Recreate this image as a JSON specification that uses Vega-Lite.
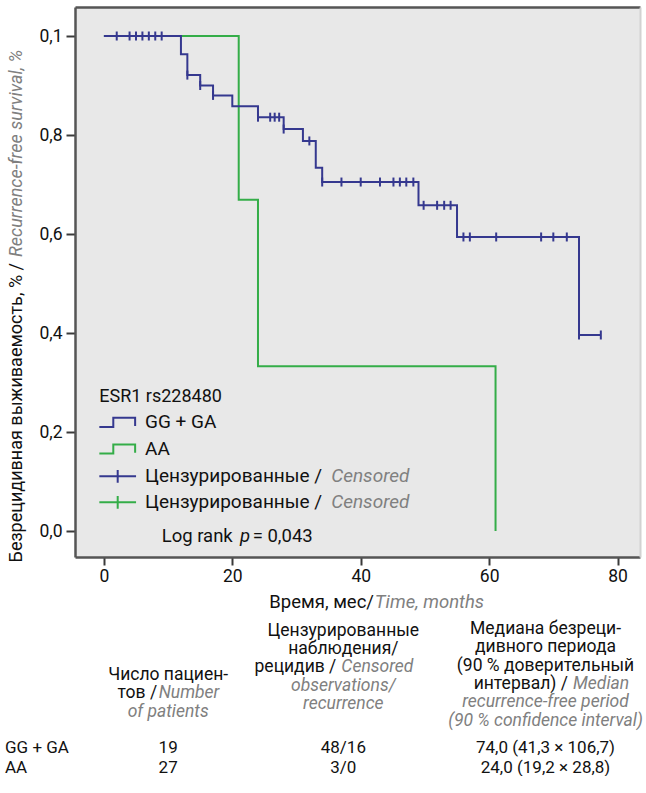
{
  "$schema": "https://vega.github.io/schema/vega-lite/v6.json",
  "width": 565,
  "height": 550,
  "padding": {"left": 5, "top": 7, "right": 0, "bottom": 0},
  "background": "white",
  "config": {
    "font": "Roboto",
    "view": {"fill": "#e8e8e8", "stroke": null},
    "text": {"fontSize": 17.5, "color": "#111"}
  },
  "datasets": {
    "curves": [
      {"group": "GG + GA", "time": 0, "surv": 1},
      {"group": "GG + GA", "time": 12, "surv": 0.963},
      {"group": "GG + GA", "time": 13, "surv": 0.921},
      {"group": "GG + GA", "time": 15, "surv": 0.9},
      {"group": "GG + GA", "time": 17, "surv": 0.88},
      {"group": "GG + GA", "time": 20, "surv": 0.858},
      {"group": "GG + GA", "time": 24, "surv": 0.836},
      {"group": "GG + GA", "time": 28, "surv": 0.812},
      {"group": "GG + GA", "time": 31, "surv": 0.788},
      {"group": "GG + GA", "time": 33, "surv": 0.734},
      {"group": "GG + GA", "time": 34, "surv": 0.705},
      {"group": "GG + GA", "time": 49, "surv": 0.658},
      {"group": "GG + GA", "time": 55, "surv": 0.594},
      {"group": "GG + GA", "time": 74, "surv": 0.396},
      {"group": "GG + GA", "time": 77.4, "surv": 0.396},
      {"group": "AA", "time": 0, "surv": 1},
      {"group": "AA", "time": 21, "surv": 0.669},
      {"group": "AA", "time": 24, "surv": 0.333},
      {"group": "AA", "time": 61, "surv": 0}
    ],
    "censored": [
      {"group": "GG + GA", "time": 2, "surv": 1},
      {"group": "GG + GA", "time": 4, "surv": 1},
      {"group": "GG + GA", "time": 5, "surv": 1},
      {"group": "GG + GA", "time": 6, "surv": 1},
      {"group": "GG + GA", "time": 7, "surv": 1},
      {"group": "GG + GA", "time": 8, "surv": 1},
      {"group": "GG + GA", "time": 9, "surv": 1},
      {"group": "GG + GA", "time": 13, "surv": 0.921},
      {"group": "GG + GA", "time": 15, "surv": 0.9},
      {"group": "GG + GA", "time": 17, "surv": 0.88},
      {"group": "GG + GA", "time": 24, "surv": 0.836},
      {"group": "GG + GA", "time": 25.9, "surv": 0.836},
      {"group": "GG + GA", "time": 26.6, "surv": 0.836},
      {"group": "GG + GA", "time": 27.3, "surv": 0.836},
      {"group": "GG + GA", "time": 28, "surv": 0.812},
      {"group": "GG + GA", "time": 32, "surv": 0.788},
      {"group": "GG + GA", "time": 34, "surv": 0.705},
      {"group": "GG + GA", "time": 37, "surv": 0.705},
      {"group": "GG + GA", "time": 40, "surv": 0.705},
      {"group": "GG + GA", "time": 43, "surv": 0.705},
      {"group": "GG + GA", "time": 45.1, "surv": 0.705},
      {"group": "GG + GA", "time": 46.1, "surv": 0.705},
      {"group": "GG + GA", "time": 47.1, "surv": 0.705},
      {"group": "GG + GA", "time": 48.2, "surv": 0.705},
      {"group": "GG + GA", "time": 49.8, "surv": 0.658},
      {"group": "GG + GA", "time": 51.9, "surv": 0.658},
      {"group": "GG + GA", "time": 53, "surv": 0.658},
      {"group": "GG + GA", "time": 54, "surv": 0.658},
      {"group": "GG + GA", "time": 56, "surv": 0.594},
      {"group": "GG + GA", "time": 57, "surv": 0.594},
      {"group": "GG + GA", "time": 61.1, "surv": 0.594},
      {"group": "GG + GA", "time": 68.1, "surv": 0.594},
      {"group": "GG + GA", "time": 70, "surv": 0.594},
      {"group": "GG + GA", "time": 72.1, "surv": 0.594},
      {"group": "GG + GA", "time": 74, "surv": 0.396},
      {"group": "GG + GA", "time": 77.4, "surv": 0.396}
    ],
    "header": [
      {"col": "n", "line": 1, "kind": "ru", "text": "Число пациен-"},
      {"col": "n", "line": 2, "kind": "ruL", "text": "тов /"},
      {"col": "n", "line": 2, "kind": "enR", "text": "Number"},
      {"col": "n", "line": 3, "kind": "en", "text": "of patients"},
      {"col": "cens", "line": 1, "kind": "ru", "text": "Цензурированные"},
      {"col": "cens", "line": 2, "kind": "ru", "text": "наблюдения/"},
      {"col": "cens", "line": 3, "kind": "ruL", "text": "рецидив /"},
      {"col": "cens", "line": 3, "kind": "enR", "text": "Censored"},
      {"col": "cens", "line": 4, "kind": "en", "text": "observations/"},
      {"col": "cens", "line": 5, "kind": "en", "text": "recurrence"},
      {"col": "med", "line": 1, "kind": "ru", "text": "Медиана безреци-"},
      {"col": "med", "line": 2, "kind": "ru", "text": "дивного периода"},
      {"col": "med", "line": 3, "kind": "ru", "text": "(90 % доверительный"},
      {"col": "med", "line": 4, "kind": "ruL", "text": "интервал) /"},
      {"col": "med", "line": 4, "kind": "enR", "text": "Median"},
      {"col": "med", "line": 5, "kind": "en", "text": "recurrence-free period"},
      {"col": "med", "line": 6, "kind": "en", "text": "(90 % confidence interval)"}
    ],
    "rows": [
      {"group": "GG + GA", "col": "label", "value": "GG + GA"},
      {"group": "GG + GA", "col": "n", "value": "19"},
      {"group": "GG + GA", "col": "cens", "value": "48/16"},
      {"group": "GG + GA", "col": "med", "value": "74,0 (41,3 × 106,7)"},
      {"group": "AA", "col": "label", "value": "AA"},
      {"group": "AA", "col": "n", "value": "27"},
      {"group": "AA", "col": "cens", "value": "3/0"},
      {"group": "AA", "col": "med", "value": "24,0 (19,2 × 28,8)"}
    ]
  },
  "layer": [
    {
      "data": {"name": "curves"},
      "transform": [{"filter": "datum.group == 'AA'"}],
      "mark": {"type": "line", "interpolate": "step-after", "color": "#34ad48", "strokeWidth": 2},
      "encoding": {
        "x": {"field": "time", "type": "quantitative", "scale": {"domain": [-4.5, 83.5], "nice": false, "zero": false},
          "axis": {"values": [0, 20, 40, 60, 80], "title": null, "grid": false, "domain": true, "domainColor": "#555", "domainWidth": 2.5, "tickSize": 8, "tickWidth": 2, "tickColor": "#3a3a3a", "labelFontSize": 17.5, "labelColor": "#111", "labelPadding": 2}},
        "y": {"field": "surv", "type": "quantitative", "scale": {"domain": [-0.0525, 1.0586], "nice": false, "zero": false},
          "axis": {"values": [0, 0.2, 0.4, 0.6, 0.8, 1], "title": null, "grid": false, "domain": true, "domainColor": "#555", "domainWidth": 2.5, "tickSize": 9, "tickWidth": 2, "tickColor": "#3a3a3a", "labelFontSize": 17.5, "labelColor": "#111", "labelPadding": 4,
            "labelExpr": "datum.value == 1 ? '0,1' : replace(format(datum.value, '.1f'), '.', ',')"}}
      }
    },
    {
      "data": {"name": "curves"},
      "transform": [{"filter": "datum.group == 'GG + GA'"}],
      "mark": {"type": "line", "interpolate": "step-after", "color": "#35388f", "strokeWidth": 2},
      "encoding": {
        "x": {"field": "time", "type": "quantitative", "scale": {"domain": [-4.5, 83.5], "nice": false, "zero": false},
          "axis": {"orient": "top", "title": null, "grid": false, "labels": false, "ticks": false, "domain": true, "domainColor": "#555", "domainWidth": 2.5}},
        "y": {"field": "surv", "type": "quantitative", "scale": {"domain": [-0.0525, 1.0586], "nice": false, "zero": false},
          "axis": {"orient": "right", "title": null, "grid": false, "labels": false, "ticks": false, "domain": true, "domainColor": "#d2d2d2", "domainWidth": 2}}
      }
    },
    {
      "data": {"name": "censored"},
      "mark": {"type": "tick", "orient": "vertical", "color": "#35388f", "size": 9, "thickness": 2, "opacity": 1},
      "encoding": {
        "x": {"field": "time", "type": "quantitative", "scale": {"domain": [-4.5, 83.5], "nice": false, "zero": false}, "axis": null},
        "y": {"field": "surv", "type": "quantitative", "scale": {"domain": [-0.0525, 1.0586], "nice": false, "zero": false}, "axis": null}
      }
    },
    {
      "data": {"values": [{"label": "ESR1 rs228480"}]},
      "mark": {"type": "text", "align": "left", "baseline": "middle", "fontSize": 18},
      "encoding": {
        "text": {"field": "label"},
        "x": {"datum": -0.72, "type": "quantitative", "scale": {"domain": [-4.5, 83.5], "nice": false, "zero": false}, "axis": null},
        "y": {"datum": 0.27, "type": "quantitative", "scale": {"domain": [-0.0525, 1.0586], "nice": false, "zero": false}, "axis": null}
      }
    },
    {
      "data": {"values": [{"label": "GG + GA"}]},
      "mark": {"type": "point", "shape": "M-1,0.25H-0.24V-0.25H0.95V0.2", "size": 1347, "filled": false, "strokeWidth": 2, "color": "#35388f", "opacity": 1},
      "encoding": {
        "x": {"datum": 2.15, "type": "quantitative", "scale": {"domain": [-4.5, 83.5], "nice": false, "zero": false}, "axis": null},
        "y": {"datum": 0.2196, "type": "quantitative", "scale": {"domain": [-0.0525, 1.0586], "nice": false, "zero": false}, "axis": null}
      }
    },
    {
      "data": {"values": [{"label": "AA"}]},
      "mark": {"type": "point", "shape": "M-1,0.25H-0.24V-0.25H0.95V0.2", "size": 1347, "filled": false, "strokeWidth": 2, "color": "#34ad48", "opacity": 1},
      "encoding": {
        "x": {"datum": 2.15, "type": "quantitative", "scale": {"domain": [-4.5, 83.5], "nice": false, "zero": false}, "axis": null},
        "y": {"datum": 0.1657, "type": "quantitative", "scale": {"domain": [-0.0525, 1.0586], "nice": false, "zero": false}, "axis": null}
      }
    },
    {
      "data": {"values": [{"label": "censored GG + GA"}]},
      "mark": {"type": "point", "shape": "M-1,0H1M0,-0.35V0.35", "size": 1347, "filled": false, "strokeWidth": 2, "color": "#35388f", "opacity": 1},
      "encoding": {
        "x": {"datum": 2.15, "type": "quantitative", "scale": {"domain": [-4.5, 83.5], "nice": false, "zero": false}, "axis": null},
        "y": {"datum": 0.1105, "type": "quantitative", "scale": {"domain": [-0.0525, 1.0586], "nice": false, "zero": false}, "axis": null}
      }
    },
    {
      "data": {"values": [{"label": "censored AA"}]},
      "mark": {"type": "point", "shape": "M-1,0H1M0,-0.35V0.35", "size": 1347, "filled": false, "strokeWidth": 2, "color": "#34ad48", "opacity": 1},
      "encoding": {
        "x": {"datum": 2.15, "type": "quantitative", "scale": {"domain": [-4.5, 83.5], "nice": false, "zero": false}, "axis": null},
        "y": {"datum": 0.058, "type": "quantitative", "scale": {"domain": [-0.0525, 1.0586], "nice": false, "zero": false}, "axis": null}
      }
    },
    {
      "data": {"values": [{"label": "GG + GA", "pos": 0.2196}, {"label": "AA", "pos": 0.1657}, {"label": "Цензурированные /", "pos": 0.1105}, {"label": "Цензурированные /", "pos": 0.058}]},
      "mark": {"type": "text", "align": "left", "baseline": "middle", "fontSize": 19},
      "encoding": {
        "text": {"field": "label"},
        "x": {"datum": 6.4, "type": "quantitative", "scale": {"domain": [-4.5, 83.5], "nice": false, "zero": false}, "axis": null},
        "y": {"field": "pos", "type": "quantitative", "scale": {"domain": [-0.0525, 1.0586], "nice": false, "zero": false}, "axis": null}
      }
    },
    {
      "data": {"values": [{"label": "Censored", "pos": 0.1105}, {"label": "Censored", "pos": 0.058}]},
      "mark": {"type": "text", "align": "left", "baseline": "middle", "fontSize": 19, "fontStyle": "italic", "color": "#808080"},
      "encoding": {
        "text": {"field": "label"},
        "x": {"datum": 35.4, "type": "quantitative", "scale": {"domain": [-4.5, 83.5], "nice": false, "zero": false}, "axis": null},
        "y": {"field": "pos", "type": "quantitative", "scale": {"domain": [-0.0525, 1.0586], "nice": false, "zero": false}, "axis": null}
      }
    },
    {
      "data": {"values": [{"label": "Log rank"}]},
      "mark": {"type": "text", "align": "left", "baseline": "middle", "fontSize": 18.5},
      "encoding": {
        "text": {"field": "label"},
        "x": {"datum": 9.0, "type": "quantitative", "scale": {"domain": [-4.5, 83.5], "nice": false, "zero": false}, "axis": null},
        "y": {"datum": -0.0095, "type": "quantitative", "scale": {"domain": [-0.0525, 1.0586], "nice": false, "zero": false}, "axis": null}
      }
    },
    {
      "data": {"values": [{"label": "p"}]},
      "mark": {"type": "text", "align": "left", "baseline": "middle", "fontSize": 18.5, "fontStyle": "italic"},
      "encoding": {
        "text": {"field": "label"},
        "x": {"datum": 21.2, "type": "quantitative", "scale": {"domain": [-4.5, 83.5], "nice": false, "zero": false}, "axis": null},
        "y": {"datum": -0.0095, "type": "quantitative", "scale": {"domain": [-0.0525, 1.0586], "nice": false, "zero": false}, "axis": null}
      }
    },
    {
      "data": {"values": [{"label": "= 0,043"}]},
      "mark": {"type": "text", "align": "left", "baseline": "middle", "fontSize": 18.5},
      "encoding": {
        "text": {"field": "label"},
        "x": {"datum": 23.18, "type": "quantitative", "scale": {"domain": [-4.5, 83.5], "nice": false, "zero": false}, "axis": null},
        "y": {"datum": -0.0095, "type": "quantitative", "scale": {"domain": [-0.0525, 1.0586], "nice": false, "zero": false}, "axis": null}
      }
    },
    {
      "data": {"values": [{"label": "Безрецидивная выживаемость, % /"}]},
      "mark": {"type": "text", "align": "right", "baseline": "middle", "angle": 270, "fontSize": 18},
      "encoding": {
        "text": {"field": "label"},
        "x": {"datum": -13.53, "type": "quantitative", "scale": {"domain": [-4.5, 83.5], "nice": false, "zero": false}, "axis": null},
        "y": {"datum": 0.5414, "type": "quantitative", "scale": {"domain": [-0.0525, 1.0586], "nice": false, "zero": false}, "axis": null}
      }
    },
    {
      "data": {"values": [{"label": "Recurrence-free survival, %"}]},
      "mark": {"type": "text", "align": "left", "baseline": "middle", "angle": 270, "fontSize": 18, "fontStyle": "italic", "color": "#808080"},
      "encoding": {
        "text": {"field": "label"},
        "x": {"datum": -13.53, "type": "quantitative", "scale": {"domain": [-4.5, 83.5], "nice": false, "zero": false}, "axis": null},
        "y": {"datum": 0.5535, "type": "quantitative", "scale": {"domain": [-0.0525, 1.0586], "nice": false, "zero": false}, "axis": null}
      }
    },
    {
      "data": {"values": [{"label": "Время, мес/"}]},
      "mark": {"type": "text", "align": "right", "baseline": "middle", "fontSize": 18.5},
      "encoding": {
        "text": {"field": "label"},
        "x": {"datum": 42.07, "type": "quantitative", "scale": {"domain": [-4.5, 83.5], "nice": false, "zero": false}, "axis": null},
        "y": {"datum": -0.1434, "type": "quantitative", "scale": {"domain": [-0.0525, 1.0586], "nice": false, "zero": false}, "axis": null}
      }
    },
    {
      "data": {"values": [{"label": "Time, months"}]},
      "mark": {"type": "text", "align": "left", "baseline": "middle", "fontSize": 18.5, "fontStyle": "italic", "color": "#808080"},
      "encoding": {
        "text": {"field": "label"},
        "x": {"datum": 42.2, "type": "quantitative", "scale": {"domain": [-4.5, 83.5], "nice": false, "zero": false}, "axis": null},
        "y": {"datum": -0.1434, "type": "quantitative", "scale": {"domain": [-0.0525, 1.0586], "nice": false, "zero": false}, "axis": null}
      }
    },
    {
      "data": {"name": "header"},
      "encoding": {
        "x": {"field": "col", "type": "nominal", "scale": {"type": "point", "domain": ["label", "n", "cens", "med"], "range": [-70, 470.5], "padding": 0}, "axis": null},
        "y": {"field": "line", "type": "quantitative", "scale": {"domain": [1, 6], "range": [622, 713.7]}, "axis": null},
        "text": {"field": "text"}
      },
      "layer": [
        {"transform": [{"filter": "datum.col == 'med' && datum.kind == 'ru'"}], "mark": {"type": "text", "align": "center", "baseline": "middle", "dx": 0}},
        {"transform": [{"filter": "datum.col == 'med' && datum.kind == 'en'"}], "mark": {"type": "text", "align": "center", "baseline": "middle", "dx": 0, "fontStyle": "italic", "color": "#808080"}},
        {"transform": [{"filter": "datum.col == 'med' && datum.kind == 'ruL'"}], "mark": {"type": "text", "align": "right", "baseline": "middle", "dx": 22.5}},
        {"transform": [{"filter": "datum.col == 'med' && datum.kind == 'enR'"}], "mark": {"type": "text", "align": "left", "baseline": "middle", "dx": 27.5, "fontStyle": "italic", "color": "#808080"}},
        {"transform": [{"filter": "datum.col == 'cens' && datum.kind == 'ru'"}], "mark": {"type": "text", "align": "center", "baseline": "middle", "dx": -22, "dy": 1.5}},
        {"transform": [{"filter": "datum.col == 'cens' && datum.kind == 'en'"}], "mark": {"type": "text", "align": "center", "baseline": "middle", "dx": -22, "dy": 1.5, "fontStyle": "italic", "color": "#808080"}},
        {"transform": [{"filter": "datum.col == 'cens' && datum.kind == 'ruL'"}], "mark": {"type": "text", "align": "right", "baseline": "middle", "dx": -29, "dy": 1.5}},
        {"transform": [{"filter": "datum.col == 'cens' && datum.kind == 'enR'"}], "mark": {"type": "text", "align": "left", "baseline": "middle", "dx": -24, "dy": 1.5, "fontStyle": "italic", "color": "#808080"}},
        {"transform": [{"filter": "datum.col == 'n' && datum.kind == 'ru'"}], "mark": {"type": "text", "align": "center", "baseline": "middle", "dx": -17, "dy": 46}},
        {"transform": [{"filter": "datum.col == 'n' && datum.kind == 'en'"}], "mark": {"type": "text", "align": "center", "baseline": "middle", "dx": -17, "dy": 46, "fontStyle": "italic", "color": "#808080"}},
        {"transform": [{"filter": "datum.col == 'n' && datum.kind == 'ruL'"}], "mark": {"type": "text", "align": "right", "baseline": "middle", "dx": -28, "dy": 46}},
        {"transform": [{"filter": "datum.col == 'n' && datum.kind == 'enR'"}], "mark": {"type": "text", "align": "left", "baseline": "middle", "dx": -26.5, "dy": 46, "fontStyle": "italic", "color": "#808080"}}
      ]
    },
    {
      "data": {"name": "rows"},
      "encoding": {
        "x": {"field": "col", "type": "nominal", "scale": {"type": "point", "domain": ["label", "n", "cens", "med"], "range": [-70, 470.5], "padding": 0}, "axis": null},
        "y": {"field": "group", "type": "nominal", "scale": {"type": "point", "domain": ["GG + GA", "AA"], "range": [740.5, 761], "padding": 0}, "axis": null},
        "text": {"field": "value"}
      },
      "layer": [
        {"transform": [{"filter": "datum.col == 'label'"}], "mark": {"type": "text", "align": "left", "baseline": "middle", "fontSize": 17}},
        {"transform": [{"filter": "datum.col == 'n'"}], "mark": {"type": "text", "align": "center", "baseline": "middle", "dx": -17, "fontSize": 17}},
        {"transform": [{"filter": "datum.col == 'cens'"}], "mark": {"type": "text", "align": "center", "baseline": "middle", "dx": -22, "fontSize": 17}},
        {"transform": [{"filter": "datum.col == 'med'"}], "mark": {"type": "text", "align": "center", "baseline": "middle", "dx": 0, "fontSize": 17}}
      ]
    }
  ],
  "resolve": {"scale": {"x": "independent", "y": "independent"}}
}
